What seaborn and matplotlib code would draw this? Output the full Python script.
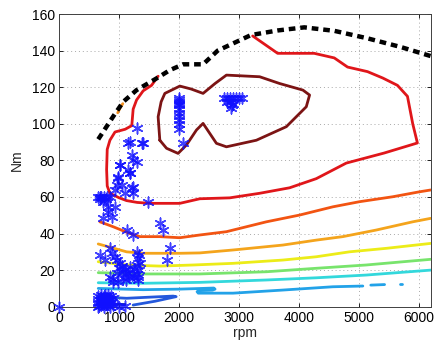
import numpy as np
import pandas as pd
import matplotlib
matplotlib.use("Agg")
import matplotlib.pyplot as plt
import seaborn as sns

# ---------------- data ----------------
# maximum torque curve (black dashed)
max_rpm = [650, 900, 1067, 1290, 1623, 1845, 2067, 2400, 2645, 3200, 3645, 4090, 4590, 5145, 5695, 6200]
max_nm = [91.5, 104, 112, 118.4, 124.8, 129.3, 132.5, 132.5, 140, 148.5, 151, 152.7, 150.8, 146.7, 142, 137]

# contour lines (rpm, Nm), one pair per segment
maroon_rpm = [1678, 1650, 1700, 1762, 2012, 2200, 2400, 2600, 2790, 3345, 3678, 4067, 4178, 4123, 3790, 3290, 2790, 2623, 2400, 2290, 2123, 1983, 1790, 1678]
maroon_nm = [91, 103.8, 112, 116.6, 120.6, 119, 116.6, 122, 126.6, 125.7, 122, 118.4, 115.7, 109.3, 98.4, 91, 87.4, 89.3, 100.2, 96.6, 88.4, 83.8, 86.6, 91]

red_rpm = [1650, 1540, 1400, 1290, 1233, 1210, 1100, 930, 845, 800, 790, 800, 845, 1000, 1123, 1300, 1512, 2012, 2345, 2845, 3345, 3845, 4290, 4790, 5423, 5978, 5900, 5812, 5645, 5400, 5145, 4812, 4590, 4255, 3645, 3228]
red_nm = [126, 121, 118, 113, 108, 99, 97, 95.5, 91, 86, 75, 66, 62, 59.5, 58, 57, 56.5, 56.5, 59, 59.5, 62, 65, 70, 78.5, 84, 89.5, 100, 115, 121, 125, 128.5, 131, 136, 138.5, 138.5, 148]

orange_bit_rpm = [975, 1020, 1060]
orange_bit_nm = [106, 109, 111]

orangered_rpm = [678, 900, 1178, 1345, 1678, 2012, 2345, 2790, 3457, 4012, 4567, 5012, 5567, 6012, 6200]
orangered_nm = [46.4, 43.7, 40, 38.3, 38.3, 37.7, 39.2, 41, 46.4, 50.1, 54.6, 57.4, 60.1, 62.8, 63.8]

orange_rpm = [650, 1123, 1400, 2012, 2345, 2900, 3733, 4290, 4733, 5290, 5900, 6200]
orange_nm = [34.3, 30, 29.2, 29.2, 29.4, 31, 33.7, 36.4, 38.3, 41.9, 46.4, 48.3]

yellow_rpm = [650, 1123, 1678, 2233, 2900, 3733, 4290, 4845, 5457, 6200]
yellow_nm = [24.6, 22.8, 22.2, 22.8, 23.7, 25.5, 27.3, 30, 31.9, 34.6]

green_rpm = [650, 1400, 2345, 3457, 4290, 5123, 6200]
green_nm = [18.6, 17.9, 17.9, 19.1, 21, 22.8, 25.9]

cyan_rpm = [650, 1400, 2345, 3457, 4290, 5123, 6200]
cyan_nm = [13.1, 12.8, 13.3, 14.6, 15.8, 17.3, 20]

lblue_rpm = [650, 1400, 2000, 2400, 2580, 2600, 2560, 2330, 2300, 2320, 2900, 3733, 4567, 5067]
lblue_nm = [10, 9.3, 9.6, 10, 10.2, 9.6, 9.1, 8.9, 8.2, 7.4, 7.4, 9.1, 10.9, 11.3]
lblue2_rpm = [5200, 5430]
lblue2_nm = [11.8, 12.1]
lblue3_rpm = [5690, 5720]
lblue3_nm = [12.3, 12.3]

mblue_rpm = [678, 900, 1123, 1500, 1900, 1950, 1600, 1233]
mblue_nm = [5.5, 5, 4.6, 5.2, 5.8, 5.5, 3, 0.9]

dblue_rpm = [680, 900, 1100]
dblue_nm = [1.5, 1.3, 1.2]

# operating points (blue asterisks)
pts_rpm = [0,
           650, 650, 650, 650, 700, 700, 700, 750, 750, 750, 750, 800, 800, 800, 850, 850, 850, 900, 900, 1000, 1100,
           670, 720, 780, 830, 880, 700, 760, 820, 870,
           650, 700, 750, 800, 850, 680, 780,
           845, 928, 1012, 1095, 1207, 1317, 1290, 1317, 1290, 1178, 1067, 956, 845, 900, 984, 678, 762, 1300, 1340,
           880, 970, 1050, 1150, 1250, 1330, 1330, 1320, 1240, 1120, 1000, 900, 1060, 1110, 1160,
           733, 817, 817, 873, 733, 928, 1123, 1233, 1483, 1678, 1733, 1845, 1790,
           984, 1178, 1040, 1233, 1095, 928, 1150, 1373, 1207, 1290, 1012, 1150, 1178, 984, 956, 1207, 1233,
           1290, 1178, 1400, 1012, 1233, 678,
           2000, 2000, 2000, 2000, 2000, 2000, 2000, 2000, 2000, 2000, 2000, 2070,
           2750, 2800, 2850, 2900, 2950, 3000, 3050, 2800, 2850, 2900, 2880, 2870]
pts_nm = [0,
          0, 2, 4, 6, 1, 3, 5, 0, 2, 4, 6, 1, 3, 5, 0, 2, 4, 1, 5, 0, 0.5,
          0.5, 2.5, 1.5, 3.5, 2.5, 6.5, 6.5, 6.5, 6,
          60, 60, 60, 60, 60, 59, 59,
          32, 27.3, 23.7, 20, 17.3, 14.6, 30, 26.4, 22.8, 21.9, 19.1, 18.3, 16.4, 13.7, 13.7, 28.3, 25.5, 18, 24,
          29.5, 25.5, 22, 18.5, 16, 20, 28, 16.5, 20.5, 20.5, 21, 15, 15.5, 14.5, 16,
          57.4, 54.6, 51.9, 49.2, 48.3, 54.6, 41.9, 39.2, 57.4, 45.6, 41.9, 31.9, 25.5,
          71, 72.9, 66.5, 65.6, 62, 63.8, 89.3, 89.3, 83, 79.2, 77.4, 74.7, 72.9, 70.2, 66.5, 64.7, 62,
          97.5, 90.2, 89.6, 77.4, 80.2, 60,
          114, 113, 112, 111, 110, 108, 106, 104, 102, 100, 97, 89.3,
          114, 114, 114, 114, 114, 114, 114, 112, 112, 111, 110, 108.5]

x_ticks = [0, 1000, 2000, 3000, 4000, 5000, 6000]
y_ticks = [0, 20, 40, 60, 80, 100, 120, 140, 160]

# ---------------- plot ----------------
sns.set_theme(style="white")
plt.rcParams['font.family'] = ['Liberation Sans', 'DejaVu Sans']

fig = plt.figure(figsize=(4.37, 3.5), dpi=100)
ax = fig.add_axes([59.3 / 437, 1 - 306.7 / 350, (430.7 - 59.3) / 437, (306.7 - 14) / 350])

segments = [
    (dblue_rpm, dblue_nm, "#1020b8"),
    (mblue_rpm, mblue_nm, "#2458dc"),
    (lblue_rpm, lblue_nm, "#22a2e8"),
    (lblue2_rpm, lblue2_nm, "#22a2e8"),
    (lblue3_rpm, lblue3_nm, "#22a2e8"),
    (cyan_rpm, cyan_nm, "#33d8dc"),
    (green_rpm, green_nm, "#78e46c"),
    (yellow_rpm, yellow_nm, "#ecec18"),
    (orange_rpm, orange_nm, "#f4a41c"),
    (orangered_rpm, orangered_nm, "#f25412"),
    (orange_bit_rpm, orange_bit_nm, "#f49020"),
    (red_rpm, red_nm, "#e0161a"),
    (maroon_rpm, maroon_nm, "#7c1414"),
]
for r, n, c in segments:
    d = pd.DataFrame({"rpm": r, "Nm": n})
    sns.lineplot(data=d, x="rpm", y="Nm", sort=False, estimator=None, color=c,
                 lw=2.0, ax=ax, legend=False, zorder=3)

dmax = pd.DataFrame({"rpm": max_rpm, "Nm": max_nm})
sns.lineplot(data=dmax, x="rpm", y="Nm", sort=False, estimator=None, color="black",
             lw=3.2, ax=ax, legend=False, zorder=4)
ax.lines[-1].set_linestyle((0, (1.5, 1.1)))

dpts = pd.DataFrame({"rpm": pts_rpm, "Nm": pts_nm})
sns.scatterplot(data=dpts, x="rpm", y="Nm", marker=(6, 2, 0), s=60, color="#1010ff",
                edgecolor="#1010ff", linewidth=1.1, alpha=0.8, ax=ax, legend=False, zorder=5, clip_on=False)

ax.set_xlim(0, 6200)
ax.set_ylim(0, 160)
ax.set_xticks(x_ticks)
ax.set_yticks(y_ticks)
ax.set_xticklabels([str(t) for t in x_ticks], fontsize=10)
ax.set_yticklabels([str(t) for t in y_ticks], fontsize=10)
ax.tick_params(direction="in", length=3, width=0.6, pad=3, colors="black",
               top=True, right=True, bottom=True, left=True)
ax.grid(True, linestyle=(0, (1, 3)), color="#a8a8a8", linewidth=0.7)
for s in ax.spines.values():
    s.set_visible(True)
    s.set_color("#404040")
    s.set_linewidth(0.7)
ax.set_xlabel("rpm", fontsize=10, labelpad=1)
ax.set_ylabel("Nm", fontsize=10, labelpad=6)

fig.savefig("out.png", dpi=100)
